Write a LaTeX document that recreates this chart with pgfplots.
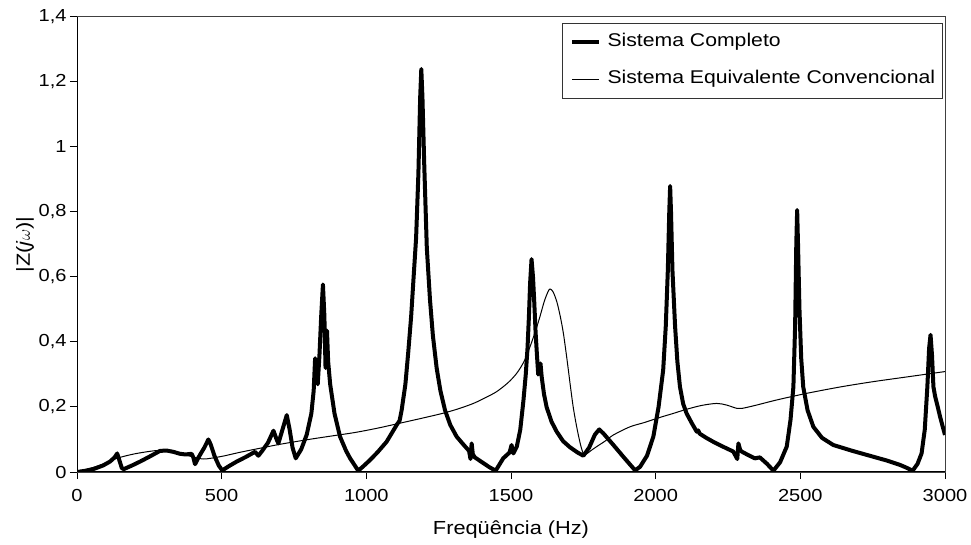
\documentclass[border=0pt]{standalone}
\usepackage{pgfplots}
\pgfplotsset{compat=1.18}
\usepackage{fontspec}
\setmainfont{Liberation Sans}[FakeStretch=1.15]
\begin{document}
\begin{tikzpicture}
\path[use as bounding box] (0,0) rectangle (971bp,545bp);
\begin{axis}[
  at={(77bp,73bp)}, anchor=south west,
  scale only axis, width=868bp, height=455bp,
  xmin=0, xmax=3000, ymin=0, ymax=1.4,
  xtick={0,500,1000,1500,2000,2500,3000},
  ytick={0,0.2,0.4,0.6,0.8,1,1.2,1.4},
  xtick pos=bottom, ytick pos=left,
  tick align=outside, major tick length=7bp,
  tick style={black, line width=1bp},
  axis line style={draw=black!75, line width=1bp},
  tick label style={font=\fontsize{17.5}{20}\selectfont},
  xticklabel style={yshift=-7bp},
  every axis x label/.style={at={(axis description cs:0.5,0)}, anchor=center, yshift=-58bp},
  every axis y label/.style={at={([xshift=-52bp]axis description cs:0,0.5)}, rotate=90, anchor=center},
  label style={font=\fontsize{19}{22}\selectfont},
  xlabel={Freqüência (Hz)},
  ylabel={|Z(\textit{j}$\omega$)|},
  legend cell align=left,
  legend image code/.code={\draw[#1] (0bp,0bp) -- (27bp,0bp);},
  legend style={at={(rel axis cs:0.9977,0.987)}, anchor=north east,
    draw=black!80, line width=0.8bp, font=\fontsize{18.5}{22}\selectfont,
    inner xsep=7.5bp, inner ysep=10.5bp, column sep=6.5bp, row sep=20bp,
    nodes={inner sep=0pt, text height=13bp, text depth=4bp}},
  /pgf/number format/use comma,
  /pgf/number format/1000 sep={},
  /pgf/number format/assume math mode=true,
]
\addplot[black, line width=4bp, line join=round] coordinates {
(0,0) (30,0.004) (60,0.01) (90,0.02) (114,0.032) (130,0.045) (139,0.057)
(145,0.04) (155,0.012) (162,0.009) (190,0.02) (218,0.032) (250,0.047)
(287,0.065) (310,0.066) (333,0.062) (356,0.056) (375,0.054) (396,0.056)
(402,0.045) (408,0.024) (420,0.045) (440,0.075) (454,0.1) (462,0.085)
(475,0.05) (490,0.02) (502,0.005) (525,0.018) (552,0.032) (585,0.047)
(615,0.062) (627,0.05) (640,0.065) (660,0.09) (679,0.127) (690,0.1)
(696,0.088) (710,0.13) (725,0.175) (735,0.13) (745,0.075) (756,0.042)
(775,0.07) (794,0.115) (810,0.18) (818,0.25) (823,0.35) (828,0.3)
(832,0.27) (838,0.36) (844,0.48) (850,0.577) (855,0.48) (859,0.32)
(864,0.435) (868,0.34) (875,0.27) (890,0.18) (909,0.109) (930,0.065)
(944,0.042) (972,0.004) (990,0.018) (1013,0.037) (1040,0.062) (1070,0.093)
(1105,0.145) (1115,0.158) (1122,0.19) (1135,0.27) (1145,0.37) (1155,0.48)
(1162,0.58) (1172,0.72) (1180,0.92) (1186,1.15) (1190,1.24) (1194,1.15)
(1200,0.95) (1209,0.69) (1220,0.53) (1230,0.42) (1243,0.32) (1256,0.25)
(1272,0.19) (1290,0.145) (1312,0.109) (1335,0.085) (1355,0.065) (1360,0.04)
(1364,0.088) (1368,0.055) (1375,0.045) (1400,0.03) (1425,0.015) (1447,0.004)
(1473,0.042) (1495,0.06) (1502,0.083) (1508,0.057) (1520,0.078) (1532,0.13)
(1543,0.22) (1551,0.3) (1557,0.38) (1562,0.48) (1566,0.58) (1571,0.655)
(1576,0.6) (1580,0.53) (1585,0.43) (1589,0.37) (1594,0.3) (1598,0.31)
(1602,0.334) (1606,0.293) (1614,0.24) (1623,0.2) (1640,0.155) (1658,0.124)
(1680,0.095) (1704,0.076) (1730,0.06) (1750,0.05) (1770,0.075) (1790,0.115)
(1805,0.131) (1820,0.118) (1854,0.083) (1890,0.045) (1929,0.005) (1946,0.016)
(1970,0.05) (1992,0.109) (2010,0.2) (2026,0.314) (2035,0.45) (2042,0.62)
(2047,0.8) (2050,0.88) (2053,0.8) (2058,0.62) (2067,0.45) (2075,0.34)
(2084,0.262) (2095,0.21) (2107,0.18) (2125,0.15) (2142,0.124) (2147,0.128)
(2152,0.118) (2175,0.105) (2199,0.093) (2235,0.077) (2268,0.063) (2282,0.04)
(2286,0.088) (2292,0.068) (2297,0.063) (2320,0.052) (2343,0.042) (2360,0.045)
(2385,0.025) (2407,0.004) (2430,0.03) (2453,0.078) (2466,0.16) (2476,0.262)
(2482,0.45) (2486,0.7) (2489,0.806) (2492,0.7) (2497,0.5) (2503,0.35)
(2510,0.262) (2525,0.19) (2545,0.139) (2575,0.105) (2614,0.083) (2680,0.065)
(2752,0.047) (2800,0.035) (2844,0.022) (2870,0.012) (2888,0.004) (2905,0.025)
(2919,0.057) (2930,0.13) (2939,0.262) (2945,0.38) (2950,0.422) (2955,0.36)
(2960,0.262) (2966,0.232) (2975,0.2) (2983,0.17) (2992,0.14) (3000,0.114)
};
\addlegendentry{Sistema Completo}
\addplot[black, line width=1bp, smooth] coordinates {
(0,0) (50,0.012) (100,0.028) (137,0.042) (200,0.056) (275,0.066) (320,0.064)
(360,0.055) (390,0.049) (437,0.04) (500,0.048) (560,0.06) (632,0.073)
(700,0.085) (800,0.1) (874,0.11) (950,0.12) (1000,0.128) (1050,0.137)
(1105,0.148) (1190,0.165) (1266,0.181) (1320,0.195) (1370,0.211) (1410,0.228)
(1450,0.247) (1490,0.275) (1520,0.304) (1545,0.34) (1566,0.386) (1585,0.435)
(1600,0.478) (1615,0.525) (1628,0.555) (1635,0.563) (1645,0.555) (1658,0.525)
(1670,0.48) (1681,0.427) (1693,0.35) (1704,0.273) (1715,0.2) (1727,0.139)
(1740,0.085) (1750,0.057) (1760,0.055) (1775,0.065) (1796,0.078) (1825,0.095)
(1854,0.114) (1911,0.139) (1960,0.152) (2015,0.168) (2060,0.18) (2107,0.193)
(2160,0.205) (2211,0.211) (2245,0.206) (2280,0.196) (2300,0.196) (2349,0.206)
(2420,0.222) (2522,0.242) (2640,0.262) (2752,0.278) (2880,0.294) (3000,0.309)
};
\addlegendentry{Sistema Equivalente Convencional}
\draw[black, line width=2bp] (rel axis cs:0,1) -- (rel axis cs:0,0) -- (rel axis cs:1,0);
\end{axis}
\end{tikzpicture}
\end{document}
